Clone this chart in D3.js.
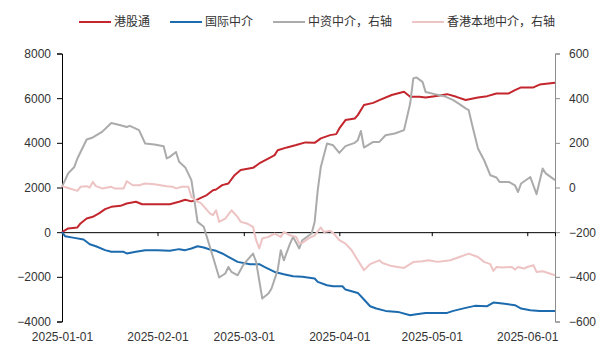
<!DOCTYPE html>
<html>
<head>
<meta charset="utf-8">
<script src="https://cdn.jsdelivr.net/npm/d3@7"></script>
<style>
  body { margin: 0; background: #fff; }
  svg { display: block; font-family: "Liberation Sans", "Noto Sans CJK SC", sans-serif; }
</style>
</head>
<body>
<svg id="chart"></svg>
<script>
// 港股通 (left axis)
const southbound = [
  ["2025-01-01", 0], ["2025-01-03", 165], ["2025-01-06", 210], ["2025-01-07", 390],
  ["2025-01-09", 615], ["2025-01-11", 690], ["2025-01-13", 840], ["2025-01-15", 1030],
  ["2025-01-17", 1135], ["2025-01-20", 1180], ["2025-01-22", 1285], ["2025-01-25", 1360],
  ["2025-01-27", 1250], ["2025-02-01", 1250], ["2025-02-05", 1250], ["2025-02-08", 1360],
  ["2025-02-10", 1450], ["2025-02-12", 1380], ["2025-02-14", 1465], ["2025-02-17", 1660],
  ["2025-02-19", 1880], ["2025-02-20", 1910], ["2025-02-22", 2105], ["2025-02-24", 2180],
  ["2025-02-26", 2550], ["2025-02-28", 2780], ["2025-03-04", 2880], ["2025-03-06", 3075],
  ["2025-03-10", 3375], ["2025-03-11", 3450], ["2025-03-12", 3670], ["2025-03-15", 3795],
  ["2025-03-18", 3900], ["2025-03-21", 4020], ["2025-03-24", 4000], ["2025-03-26", 4200],
  ["2025-03-29", 4345], ["2025-03-31", 4390], ["2025-04-01", 4645], ["2025-04-03", 5020],
  ["2025-04-06", 5090], ["2025-04-07", 5240], ["2025-04-09", 5690], ["2025-04-12", 5790],
  ["2025-04-14", 5915], ["2025-04-18", 6140], ["2025-04-22", 6285], ["2025-04-24", 6060],
  ["2025-04-27", 6060], ["2025-04-29", 6030], ["2025-05-02", 6090], ["2025-05-06", 6180],
  ["2025-05-09", 6060], ["2025-05-12", 5915], ["2025-05-16", 6030], ["2025-05-19", 6090],
  ["2025-05-22", 6210], ["2025-05-26", 6210], ["2025-05-28", 6360], ["2025-05-30", 6480],
  ["2025-06-03", 6480], ["2025-06-05", 6610], ["2025-06-10", 6690]
];

// 国际中介 (left axis)
const intlBrokers = [
  ["2025-01-01", 0], ["2025-01-02", -180], ["2025-01-05", -255], ["2025-01-08", -330],
  ["2025-01-10", -540], ["2025-01-12", -630], ["2025-01-15", -805], ["2025-01-17", -880],
  ["2025-01-21", -880], ["2025-01-22", -955], ["2025-01-25", -880], ["2025-01-28", -805],
  ["2025-02-01", -805], ["2025-02-05", -835], ["2025-02-08", -760], ["2025-02-10", -805],
  ["2025-02-12", -730], ["2025-02-14", -630], ["2025-02-16", -685], ["2025-02-18", -775],
  ["2025-02-20", -835], ["2025-02-22", -955], ["2025-02-24", -1105], ["2025-02-27", -1330],
  ["2025-03-03", -1435], ["2025-03-06", -1435], ["2025-03-08", -1580], ["2025-03-11", -1780],
  ["2025-03-14", -1880], ["2025-03-17", -1970], ["2025-03-20", -2000], ["2025-03-24", -2075],
  ["2025-03-25", -2225], ["2025-03-28", -2375], ["2025-03-30", -2420], ["2025-04-02", -2420],
  ["2025-04-03", -2570], ["2025-04-07", -2720], ["2025-04-09", -3015], ["2025-04-11", -3315],
  ["2025-04-13", -3420], ["2025-04-16", -3525], ["2025-04-20", -3570], ["2025-04-24", -3720],
  ["2025-04-26", -3675], ["2025-04-29", -3615], ["2025-05-03", -3615], ["2025-05-06", -3615],
  ["2025-05-08", -3525], ["2025-05-12", -3390], ["2025-05-15", -3300], ["2025-05-19", -3315],
  ["2025-05-21", -3150], ["2025-05-24", -3195], ["2025-05-28", -3270], ["2025-05-30", -3420],
  ["2025-06-02", -3495], ["2025-06-05", -3525], ["2025-06-10", -3525]
];

// 中资中介 (right axis)
const chineseBrokers = [
  ["2025-01-01", 3], ["2025-01-03", 63], ["2025-01-05", 92], ["2025-01-06", 130],
  ["2025-01-09", 215], ["2025-01-11", 224], ["2025-01-14", 249], ["2025-01-17", 289],
  ["2025-01-20", 279], ["2025-01-22", 271], ["2025-01-23", 276], ["2025-01-26", 257],
  ["2025-01-28", 197], ["2025-01-31", 193], ["2025-02-03", 185], ["2025-02-04", 130],
  ["2025-02-05", 137], ["2025-02-07", 159], ["2025-02-08", 115], ["2025-02-10", 90],
  ["2025-02-12", 33], ["2025-02-14", -154], ["2025-02-16", -176], ["2025-02-18", -266],
  ["2025-02-19", -311], ["2025-02-21", -403], ["2025-02-23", -385], ["2025-02-24", -356],
  ["2025-02-25", -378], ["2025-02-27", -393], ["2025-03-01", -343], ["2025-03-04", -296],
  ["2025-03-05", -333], ["2025-03-07", -497], ["2025-03-09", -475], ["2025-03-10", -452],
  ["2025-03-12", -370], ["2025-03-13", -281], ["2025-03-14", -326], ["2025-03-16", -251],
  ["2025-03-17", -221], ["2025-03-19", -273], ["2025-03-20", -236], ["2025-03-23", -206],
  ["2025-03-24", -154], ["2025-03-25", -12], ["2025-03-26", 92], ["2025-03-28", 197],
  ["2025-03-30", 189], ["2025-04-01", 155], ["2025-04-03", 185], ["2025-04-06", 200],
  ["2025-04-07", 212], ["2025-04-08", 253], ["2025-04-09", 179], ["2025-04-12", 204],
  ["2025-04-14", 204], ["2025-04-16", 234], ["2025-04-19", 242], ["2025-04-22", 257],
  ["2025-04-24", 376], ["2025-04-25", 488], ["2025-04-26", 493], ["2025-04-28", 473],
  ["2025-04-29", 428], ["2025-05-02", 418], ["2025-05-05", 409], ["2025-05-08", 391],
  ["2025-05-10", 373], ["2025-05-12", 354], ["2025-05-13", 346], ["2025-05-14", 287],
  ["2025-05-16", 175], ["2025-05-18", 122], ["2025-05-20", 55], ["2025-05-22", 45],
  ["2025-05-23", 25], ["2025-05-26", 25], ["2025-05-28", 10], ["2025-05-29", -20],
  ["2025-05-30", 18], ["2025-06-02", 47], ["2025-06-04", -30], ["2025-06-06", 85],
  ["2025-06-07", 63], ["2025-06-10", 33]
];

// 香港本地中介 (right axis)
const localBrokers = [
  ["2025-01-01", 6], ["2025-01-03", -2], ["2025-01-06", -15], ["2025-01-07", 3],
  ["2025-01-09", 6], ["2025-01-10", 0], ["2025-01-11", 25], ["2025-01-12", 6],
  ["2025-01-14", -4], ["2025-01-17", 3], ["2025-01-18", -4], ["2025-01-21", -4],
  ["2025-01-22", 28], ["2025-01-24", 10], ["2025-01-26", 10], ["2025-01-28", 18],
  ["2025-01-31", 15], ["2025-02-04", 6], ["2025-02-06", 3], ["2025-02-07", -4],
  ["2025-02-09", 3], ["2025-02-11", 3], ["2025-02-12", -42], ["2025-02-14", -64],
  ["2025-02-15", -69], ["2025-02-18", -116], ["2025-02-19", -124], ["2025-02-20", -102],
  ["2025-02-21", -154], ["2025-02-23", -139], ["2025-02-25", -102], ["2025-02-27", -132],
  ["2025-02-28", -154], ["2025-03-02", -161], ["2025-03-04", -176], ["2025-03-05", -236],
  ["2025-03-06", -273], ["2025-03-07", -228], ["2025-03-09", -221], ["2025-03-11", -206],
  ["2025-03-13", -221], ["2025-03-14", -199], ["2025-03-16", -214], ["2025-03-18", -221],
  ["2025-03-19", -251], ["2025-03-20", -248], ["2025-03-22", -228], ["2025-03-24", -214],
  ["2025-03-26", -179], ["2025-03-27", -199], ["2025-03-29", -194], ["2025-03-30", -203],
  ["2025-04-01", -236], ["2025-04-03", -251], ["2025-04-05", -281], ["2025-04-07", -326],
  ["2025-04-09", -370], ["2025-04-11", -343], ["2025-04-14", -326], ["2025-04-15", -338],
  ["2025-04-18", -352], ["2025-04-20", -356], ["2025-04-22", -360], ["2025-04-25", -334],
  ["2025-04-28", -330], ["2025-04-30", -326], ["2025-05-03", -333], ["2025-05-07", -326],
  ["2025-05-10", -311], ["2025-05-13", -296], ["2025-05-16", -311], ["2025-05-18", -333],
  ["2025-05-20", -343], ["2025-05-21", -373], ["2025-05-22", -356], ["2025-05-24", -358],
  ["2025-05-27", -356], ["2025-05-28", -367], ["2025-05-29", -356], ["2025-05-31", -363],
  ["2025-06-01", -356], ["2025-06-03", -348], ["2025-06-04", -378], ["2025-06-06", -375],
  ["2025-06-10", -393]
];

const seriesNames = ["港股通", "国际中介", "中资中介，右轴", "香港本地中介，右轴"];
const seriesColors = ["#C4262E", "#1C6BAE", "#ABABAB", "#EDC3C3"];
const leftTicks = [-4000, -2000, 0, 2000, 4000, 6000, 8000];
const rightTicks = [-600, -400, -200, 0, 200, 400, 600];
const monthTicks = ["2025-01-01", "2025-02-01", "2025-03-01", "2025-04-01", "2025-05-01", "2025-06-01"];

const W = 600, H = 363;
const margin = { top: 53.5, right: 45, bottom: 41.5, left: 62 };
const width = W - margin.left - margin.right;
const height = H - margin.top - margin.bottom;

const parse = d3.timeParse("%Y-%m-%d");

const svg = d3.select("#chart").attr("width", W).attr("height", H);
const g = svg.append("g").attr("transform", `translate(${margin.left},${margin.top})`);

const x = d3.scaleTime()
  .domain([parse("2025-01-01"), parse("2025-06-10")])
  .range([0, width]);
const yL = d3.scaleLinear().domain([-4000, 8000]).range([height, 0]);
const yR = d3.scaleLinear().domain([-600, 600]).range([height, 0]);

// left axis
const leftAxis = g.append("g")
  .call(d3.axisLeft(yL).tickValues(leftTicks).tickSize(5).tickPadding(6).tickFormat(d3.format("d")));
leftAxis.select(".domain").attr("stroke", "#000");
leftAxis.selectAll(".tick line").attr("stroke", "#000");

// right axis
const rightAxis = g.append("g")
  .attr("transform", `translate(${width},0)`)
  .call(d3.axisRight(yR).tickValues(rightTicks).tickSize(5).tickPadding(9).tickFormat(d3.format("d")));
rightAxis.select(".domain").attr("stroke", "#8c8c8c");
rightAxis.selectAll(".tick line").attr("stroke", "#8c8c8c");

// zero line with month ticks
const zeroAxis = g.append("g")
  .attr("transform", `translate(0,${yL(0)})`)
  .call(d3.axisBottom(x).tickValues(monthTicks.map(parse)).tickSize(4).tickFormat(""));
zeroAxis.select(".domain").attr("stroke", "#000");
zeroAxis.selectAll(".tick line").attr("stroke", "#000");

// date labels at bottom
const dateAxis = g.append("g")
  .attr("transform", `translate(0,${height})`)
  .call(d3.axisBottom(x).tickValues(monthTicks.map(parse)).tickSize(0).tickPadding(11)
    .tickFormat(d3.timeFormat("%Y-%m-%d")));
dateAxis.select(".domain").remove();

g.selectAll(".tick text").attr("font-size", 12).attr("fill", "#333")
  .attr("font-family", "'Liberation Sans', sans-serif");

const lineL = d3.line().x((d) => x(parse(d[0]))).y((d) => yL(d[1]));
const lineR = d3.line().x((d) => x(parse(d[0]))).y((d) => yR(d[1]));

const plotted = [
  { data: southbound, line: lineL, color: seriesColors[0] },
  { data: intlBrokers, line: lineL, color: seriesColors[1] },
  { data: chineseBrokers, line: lineR, color: seriesColors[2] },
  { data: localBrokers, line: lineR, color: seriesColors[3] },
];

g.selectAll(".series")
  .data(plotted)
  .enter()
  .append("path")
  .attr("class", "series")
  .attr("fill", "none")
  .attr("stroke", (d) => d.color)
  .attr("stroke-width", 2)
  .attr("stroke-linejoin", "round")
  .attr("d", (d) => d.line(d.data));

// legend
const legend = svg.append("g").attr("transform", "translate(79,22)");
let lx = 0;
seriesNames.forEach((name, i) => {
  const item = legend.append("g").attr("transform", `translate(${lx},0)`);
  item.append("line")
    .attr("x1", 0).attr("x2", 32).attr("y1", 0).attr("y2", 0)
    .attr("stroke", seriesColors[i]).attr("stroke-width", 2);
  const t = item.append("text")
    .attr("x", 35).attr("y", 0).attr("dy", "0.35em")
    .attr("font-size", 12).attr("fill", "#333")
    .attr("font-family", "'Noto Sans CJK SC', sans-serif")
    .text(name);
  lx += 35 + t.node().getComputedTextLength() + 20;
});
</script>
</body>
</html>
